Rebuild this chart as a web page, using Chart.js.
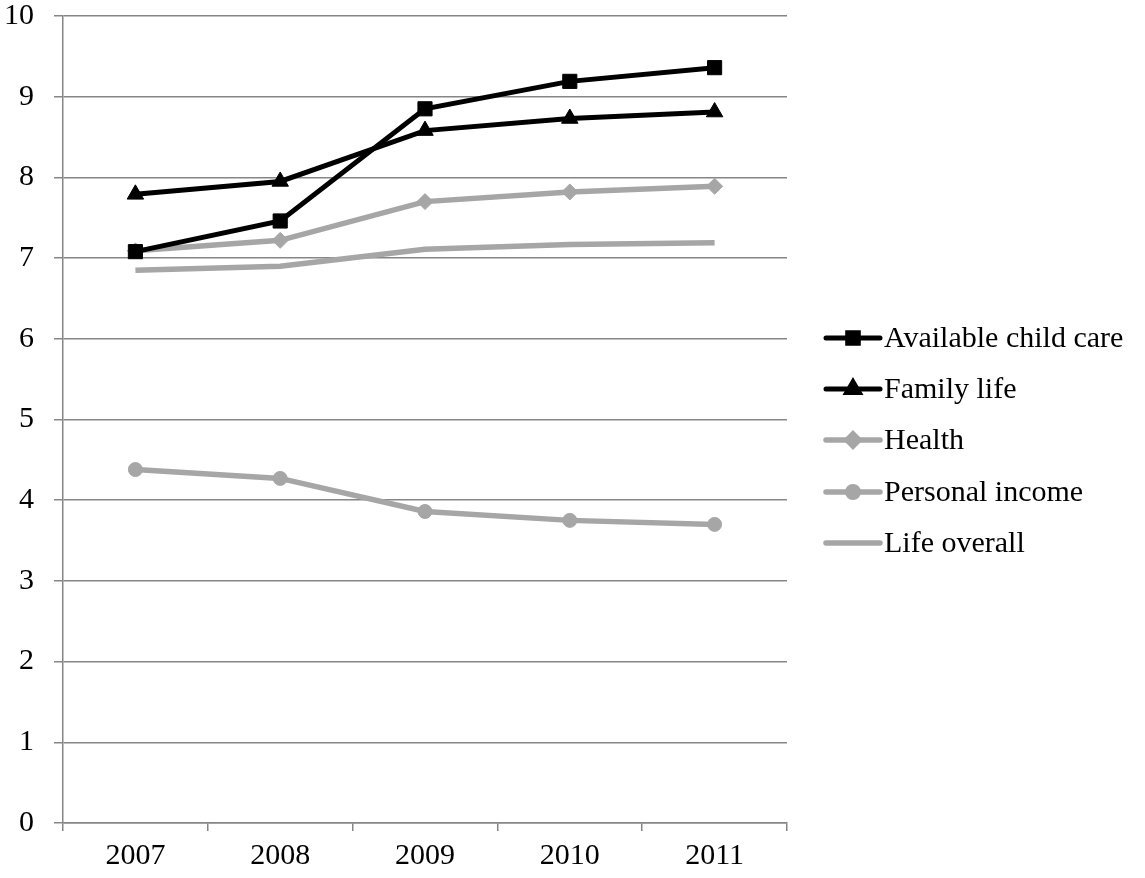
<!DOCTYPE html>
<html>
<head>
<meta charset="utf-8">
<script src="https://cdn.jsdelivr.net/npm/chart.js@4.4.0/dist/chart.umd.min.js"></script>
<style>
  html, body { margin: 0; padding: 0; background: #fff; }
  #wrap { width: 1145px; height: 878px; position: relative; }
</style>
</head>
<body>
<div id="wrap"><canvas id="chart" width="1145" height="878"></canvas></div>
<script>
// Values
const years = ['2007', '2008', '2009', '2010', '2011'];
const childCare = [7.08, 7.46, 8.85, 9.19, 9.36];
const familyLife = [7.79, 7.95, 8.58, 8.73, 8.81];
const health = [7.09, 7.22, 7.70, 7.82, 7.89];
const personalIncome = [4.38, 4.27, 3.86, 3.75, 3.70];
const lifeOverall = [6.85, 6.90, 7.11, 7.17, 7.19];
const yTicks = [0, 1, 2, 3, 4, 5, 6, 7, 8, 9, 10];

const BLACK = '#000000';
const GREY = '#a6a6a6';
const AXIS = '#868686';
const FONT = '"Liberation Serif", "Times New Roman", serif';
const FONT_SIZE = 30;

function series(label, data, color, style, radius, width) {
    return {
        label: label,
        data: data,
        borderColor: color,
        backgroundColor: color,
        borderWidth: width,
        pointStyle: style,
        pointRadius: radius,
        pointHoverRadius: radius,
        pointBorderWidth: 1,
        tension: 0
    };
}

// Legend drawn on the canvas: line with marker, then label
const sideLegend = {
    id: 'sideLegend',
    afterDraw(chart) {
        const ctx = chart.ctx;
        const x0 = 826, x1 = 880, tx = 884;
        const rowY = [338, 389, 440, 492, 543];
        chart.data.datasets.forEach((ds, i) => {
            const y = rowY[i];
            ctx.save();
            ctx.strokeStyle = ds.borderColor;
            ctx.lineWidth = ds.borderWidth;
            ctx.lineCap = 'round';
            ctx.beginPath();
            ctx.moveTo(x0, y);
            ctx.lineTo(x1, y);
            ctx.stroke();
            if (ds.pointStyle !== false) {
                Chart.helpers.drawPoint(ctx, {
                    pointStyle: ds.pointStyle,
                    radius: ds.pointRadius * 0.75,
                    borderWidth: 1,
                    rotation: 0
                }, (x0 + x1) / 2, y);
                ctx.fillStyle = ds.backgroundColor;
                ctx.fill();
            }
            ctx.fillStyle = '#000';
            ctx.font = FONT_SIZE + 'px ' + FONT;
            ctx.textBaseline = 'middle';
            ctx.textAlign = 'left';
            ctx.fillText(ds.label, tx, y + 1);
            ctx.restore();
        });
    }
};

new Chart(document.getElementById('chart'), {
    type: 'line',
    data: {
        labels: years,
        datasets: [
            series('Available child care', childCare, BLACK, 'rect', 10, 5),
            series('Family life', familyLife, BLACK, 'triangle', 9.5, 5),
            series('Health', health, GREY, 'rectRot', 8, 5.5),
            series('Personal income', personalIncome, GREY, 'circle', 7, 5.5),
            series('Life overall', lifeOverall, GREY, false, 0, 5.5)
        ]
    },
    options: {
        responsive: false,
        animation: false,
        devicePixelRatio: 1,
        layout: { padding: { top: 16, right: 358, bottom: 0, left: 0 } },
        plugins: {
            legend: { display: false },
            tooltip: { enabled: false }
        },
        scales: {
            x: {
                offset: true,
                grid: {
                    offset: true,
                    drawOnChartArea: false,
                    drawTicks: true,
                    tickLength: 8,
                    color: AXIS,
                    lineWidth: 1.5
                },
                border: { color: AXIS, width: 1.5 },
                ticks: {
                    color: '#000',
                    padding: 7,
                    font: { family: FONT, size: FONT_SIZE },
                    maxRotation: 0
                },
                afterFit(scale) {
                    scale.height = 55;
                    scale.paddingLeft = 0;
                    scale.paddingRight = 0;
                }
            },
            y: {
                min: 0,
                max: 10,
                afterBuildTicks(scale) {
                    scale.ticks = yTicks.map(v => ({ value: v }));
                },
                grid: {
                    color: AXIS,
                    lineWidth: 1.5,
                    drawTicks: true,
                    tickLength: 9
                },
                border: { color: AXIS, width: 1.5 },
                ticks: {
                    color: '#000',
                    padding: 20,
                    font: { family: FONT, size: FONT_SIZE }
                },
                afterFit(scale) {
                    scale.width = 63;
                    scale.paddingTop = 0;
                    scale.paddingBottom = 0;
                }
            }
        }
    },
    plugins: [sideLegend]
});
</script>
</body>
</html>
